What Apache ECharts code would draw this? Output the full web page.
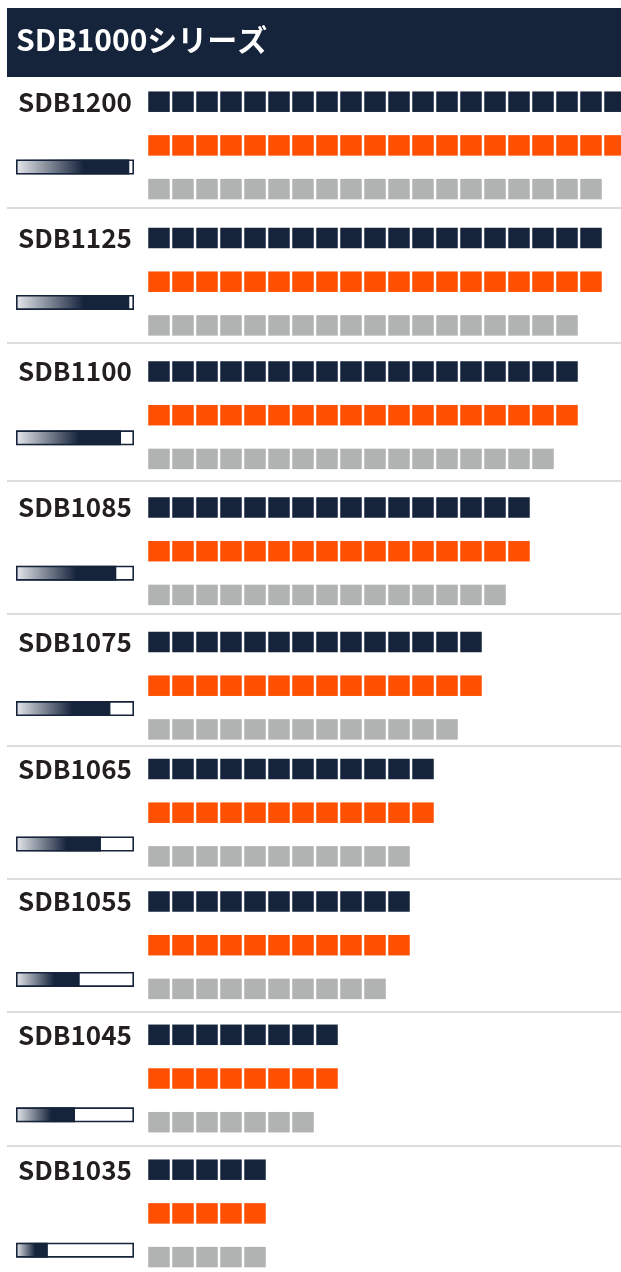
<!DOCTYPE html>
<html>
<head>
<meta charset="utf-8">
<script src="https://cdn.jsdelivr.net/npm/echarts@6/dist/echarts.min.js"></script>
<style>
html,body{margin:0;padding:0;background:#fff;}
#c{width:621px;height:1272px;}
</style>
</head>
<body>
<div id="c"></div>
<script>
// ---- data ----
const titleText = 'SDB1000シリーズ';
const models = ['SDB1200','SDB1125','SDB1100','SDB1085','SDB1075','SDB1065','SDB1055','SDB1045','SDB1035'];
const navyCounts   = [20,19,18,16,14,12,11,8,5];
const orangeCounts = [20,19,18,16,14,12,11,8,5];
const grayCounts   = [19,18,17,15,13,11,10,7,5];
const levels       = [96,96,89,85,80,72,54,50,27];

// ---- layout / style ----
const NAVY = '#15233b', ORANGE = '#fe5000', GRAY = '#b1b3b3';
const rowCenters = [101.7, 238, 371.5, 507.5, 642, 769, 901.5, 1034.8, 1169.7];
const sepLines = [208, 343, 481, 614, 746, 879, 1012, 1146];
const BAND = 43.7;
const UNIT = 24;
const SQ_W = 21.5, SQ_H = 20.5;
const GRID_LEFT = 147;
const MAXU = 20;
const MARGIN = (UNIT - SQ_W) / 2;

const chart = echarts.init(document.getElementById('c'), null, {renderer:'canvas'});

const grids = [], xAxes = [], yAxes = [], series = [];
models.forEach((m, i) => {
  grids.push({left: GRID_LEFT, width: UNIT*MAXU, top: rowCenters[i] - BAND/2, height: BAND*3,
    containLabel:false, outerBoundsMode:'none'});
  xAxes.push({gridIndex:i, type:'value', min:0, max:MAXU, show:false});
  yAxes.push({
    gridIndex:i, type:'category', inverse:true, data:['a','b','c'],
    axisLine:{show:false}, axisTick:{show:false}, splitLine:{show:false},
    axisLabel:{
      show:true, align:'left', margin: GRID_LEFT - 18,
      formatter:(v, idx) => idx === 0 ? m : '',
      fontFamily:'Noto Sans CJK JP', fontWeight:'bold', fontSize:26, color:'#231f20',
      verticalAlign:'middle', padding:[0,0,4,0]
    }
  });
  series.push({
    type:'pictorialBar', xAxisIndex:i, yAxisIndex:i,
    symbol:'rect', symbolRepeat:true, symbolMargin: MARGIN + '!',
    symbolSize:[SQ_W, SQ_H], symbolPosition:'start',
    silent:true, animation:false,
    data:[
      {value: navyCounts[i], itemStyle:{color:NAVY}},
      {value: orangeCounts[i], itemStyle:{color:ORANGE}},
      {value: grayCounts[i], itemStyle:{color:GRAY}}
    ]
  });
});

// progress bars grid
const bi = models.length;
const BAR_PITCH = 135.4, BAR_C0 = 167;
grids.push({left:16, width:118, top: BAR_C0 - BAR_PITCH/2, height: BAR_PITCH*models.length,
  containLabel:false, outerBoundsMode:'none'});
xAxes.push({gridIndex:bi, type:'value', min:0, max:100, show:false});
yAxes.push({gridIndex:bi, type:'category', inverse:true, data:models, show:false});
series.push({
  type:'bar', xAxisIndex:bi, yAxisIndex:bi, barWidth:15, barGap:'-100%', animation:false, silent:true,
  itemStyle:{color:new echarts.graphic.LinearGradient(0,0,1,0,[
    {offset:0, color:'#e6e8ec'},{offset:0.6, color:NAVY},{offset:1, color:NAVY}])},
  data: levels, z:2
});
series.push({
  type:'bar', xAxisIndex:bi, yAxisIndex:bi, barWidth:15, barGap:'-100%', animation:false, silent:true,
  itemStyle:{color:'rgba(0,0,0,0)', borderColor:NAVY, borderWidth:1.6},
  data: models.map(() => 100), z:3
});

const graphics = [
  {type:'rect', shape:{x:7, y:8, width:614, height:69}, style:{fill:NAVY}, z:-1}
];
sepLines.forEach(y => graphics.push({
  type:'line', shape:{x1:7, y1:y, x2:621, y2:y}, style:{stroke:'#cfd0d0', lineWidth:1.5}, z:-1
}));

chart.setOption({
  backgroundColor:'#ffffff',
  animation:false,
  title:{text:titleText, left:16, top:25, padding:0,
    textStyle:{color:'#ffffff', fontFamily:'Noto Sans CJK JP', fontWeight:'bold', fontSize:30}},
  graphic: graphics,
  grid: grids, xAxis: xAxes, yAxis: yAxes, series: series
});
</script>
</body>
</html>
